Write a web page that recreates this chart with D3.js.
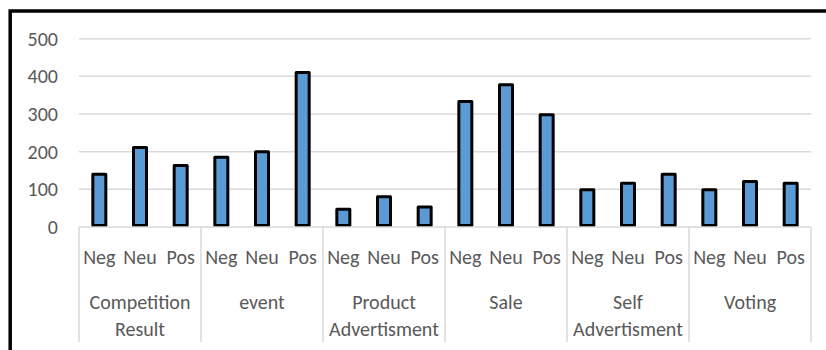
<!DOCTYPE html>
<html>
<head>
<meta charset="utf-8">
<script src="https://cdn.jsdelivr.net/npm/d3@7"></script>
<style>
  body { margin: 0; background: #fff; }
  svg { display: block; font-family: Carlito, Calibri, Lato, sans-serif; }
</style>
</head>
<body>
<script>
// categories and sentiment sub-categories
var categories = ["Competition Result", "event", "Product Advertisment", "Sale", "Self Advertisment", "Voting"];
var categoryLines = [["Competition", "Result"], ["event"], ["Product", "Advertisment"], ["Sale"], ["Self", "Advertisment"], ["Voting"]];
var sentiments = ["Neg", "Neu", "Pos"];

// counts per category, in order Neg, Neu, Pos
var negValues = [140, 185, 47, 333, 99, 99];
var neuValues = [211, 200, 80, 378, 116, 121];
var posValues = [163, 410, 53, 298, 140, 116];

var yTicks = [0, 100, 200, 300, 400, 500];

var width = 826, height = 350;
var plotLeft = 79, plotRight = 811, plotTop = 38.7, plotBottom = 227;
var fontSize = "20px";

var svg = d3.select("body").append("svg")
    .attr("width", width)
    .attr("height", height);

// outer chart border (only left and top visible in the crop)
svg.append("path")
    .attr("d", "M10.2,360 L10.2,11 L840,11")
    .attr("fill", "none")
    .attr("stroke", "#000")
    .attr("stroke-width", 3.5);

var x0 = d3.scaleBand().domain(categories).range([plotLeft, plotRight]).padding(0);
var x1 = d3.scaleBand().domain(sentiments).range([0, x0.bandwidth()]).padding(0);
var y = d3.scaleLinear().domain([0, 500]).range([plotBottom, plotTop]);

// gridlines
svg.append("g").selectAll("line")
    .data(yTicks.filter(function(d) { return d > 0; }))
    .enter().append("line")
    .attr("x1", plotLeft).attr("x2", plotRight)
    .attr("y1", function(d) { return y(d); })
    .attr("y2", function(d) { return y(d); })
    .attr("stroke", "#d9d9d9")
    .attr("stroke-width", 1.5);

// y tick labels
svg.append("g").selectAll("text")
    .data(yTicks)
    .enter().append("text")
    .attr("x", 58)
    .attr("y", function(d) { return y(d); })
    .attr("dy", "0.35em")
    .attr("text-anchor", "end")
    .attr("fill", "#595959")
    .style("font-size", fontSize)
    .text(function(d) { return d; });

// bars
var rows = categories.map(function(c, i) {
    return {cat: c, values: [negValues[i], neuValues[i], posValues[i]]};
});

var barW = 13;
var groups = svg.append("g").selectAll("g")
    .data(rows)
    .enter().append("g")
    .attr("transform", function(d) { return "translate(" + x0(d.cat) + ",0)"; });

// bottom edge kept 1.5px above the axis so the outline sits on it
groups.selectAll("rect")
    .data(function(d) { return d.values.map(function(v, j) { return {s: sentiments[j], v: v}; }); })
    .enter().append("rect")
    .attr("x", function(d) { return x1(d.s) + x1.bandwidth() / 2 - barW / 2; })
    .attr("width", barW)
    .attr("y", function(d) { return y(d.v); })
    .attr("height", function(d) { return y(0) - y(d.v) - 1.5; })
    .attr("fill", "#5b9bd5")
    .attr("stroke", "#000")
    .attr("stroke-width", 3)
    .attr("stroke-linejoin", "round");

// category axis line and group separators
svg.append("line")
    .attr("x1", plotLeft).attr("x2", plotRight)
    .attr("y1", plotBottom).attr("y2", plotBottom)
    .attr("stroke", "#d9d9d9").attr("stroke-width", 1.5);

var bounds = categories.map(function(c) { return x0(c); }).concat([plotRight]);
svg.append("g").selectAll("line")
    .data(bounds)
    .enter().append("line")
    .attr("x1", function(d) { return d; }).attr("x2", function(d) { return d; })
    .attr("y1", plotBottom).attr("y2", 342)
    .attr("stroke", "#d9d9d9").attr("stroke-width", 1.5);

// sentiment labels
groups.selectAll("text.sub")
    .data(sentiments)
    .enter().append("text")
    .attr("class", "sub")
    .attr("x", function(d) { return x1(d) + x1.bandwidth() / 2; })
    .attr("y", 257)
    .attr("dy", "0.35em")
    .attr("text-anchor", "middle")
    .attr("fill", "#595959")
    .style("font-size", fontSize)
    .text(function(d) { return d; });

// category labels
groups.each(function(d, i) {
    var lines = categoryLines[i];
    d3.select(this).selectAll("text.cat")
        .data(lines)
        .enter().append("text")
        .attr("class", "cat")
        .attr("x", x0.bandwidth() / 2)
        .attr("y", function(l, k) { return 302 + k * 27; })
        .attr("dy", "0.35em")
        .attr("text-anchor", "middle")
        .attr("fill", "#595959")
        .style("font-size", fontSize)
        .text(function(l) { return l; });
});
</script>
</body>
</html>
